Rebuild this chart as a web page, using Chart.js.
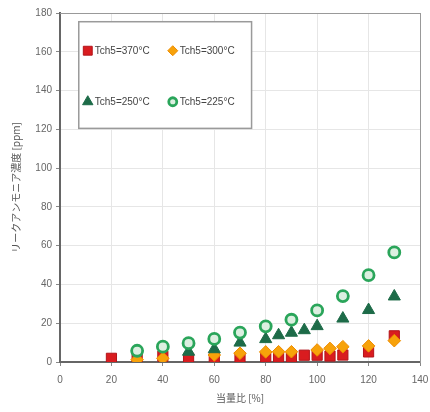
<!DOCTYPE html>
<html>
<head>
<meta charset="utf-8">
<script src="https://cdn.jsdelivr.net/npm/chart.js@4/dist/chart.umd.min.js"></script>
<style>
  html, body { margin: 0; padding: 0; background: #fff; }
  #wrap { width: 430px; height: 412px; position: relative; }
</style>
</head>
<body>
<div id="wrap"><canvas id="c"></canvas></div>
<script>
// Equivalence ratio [%] and leak ammonia concentration [ppm] per Tch5 setting
const x370 = [20, 30, 40, 50, 60, 70, 80, 85, 90, 95, 100, 105, 110, 120, 130];
const y370 = [1.9, 2, 3, 1.9, 1.9, 2.4, 2.5, 2.5, 2.5, 3.5, 3.5, 3.1, 3.6, 5.2, 13.5];

const x300 = [30, 40, 60, 70, 80, 85, 90, 100, 105, 110, 120, 130];
const y300 = [1.2, 1.9, 3.6, 4.5, 5.2, 5.3, 5.3, 6.2, 7, 7.9, 8.3, 11];

const x250 = [50, 60, 70, 80, 85, 90, 95, 100, 110, 120, 130];
const y250 = [5.3, 6.6, 10, 11.8, 13.8, 15.1, 16.4, 18.5, 22.4, 26.8, 33.8];

const x225 = [30, 40, 50, 60, 70, 80, 90, 100, 110, 120, 130];
const y225 = [5.8, 7.9, 9.7, 11.9, 15.2, 18.4, 21.8, 26.6, 34, 44.8, 56.5];

const seriesNames = ['Tch5=370°C', 'Tch5=300°C', 'Tch5=250°C', 'Tch5=225°C'];
const xTicks = [0, 20, 40, 60, 80, 100, 120, 140];
const yTicks = [0, 20, 40, 60, 80, 100, 120, 140, 160, 180];
const xTitle = '当量比 [%]';
const yTitle = 'リークアンモニア濃度 [ppm]';

const pts = (xs, ys) => xs.map((v, i) => ({ x: v, y: ys[i] }));

const TICK_FONT = { family: "'Liberation Sans', Arial, sans-serif", size: 10 };
const JP_FONT = "'Noto Sans CJK JP', sans-serif";

const datasets = [
  { label: seriesNames[0], data: pts(x370, y370), pointStyle: 'rect', pointRadius: 7.2,
    backgroundColor: '#d91c1f', borderColor: '#b3141a', borderWidth: 1, order: 4 },
  { label: seriesNames[1], data: pts(x300, y300), pointStyle: 'rectRot', pointRadius: 6.3,
    backgroundColor: '#f7a20a', borderColor: '#ee8c00', borderWidth: 1, order: 3 },
  { label: seriesNames[2], data: pts(x250, y250), pointStyle: 'triangle', pointRadius: 7,
    backgroundColor: '#1d6b48', borderColor: '#1d6b48', borderWidth: 1, order: 2 },
  { label: seriesNames[3], data: pts(x225, y225), pointStyle: 'circle', pointRadius: 5.5,
    backgroundColor: '#dcefe0', borderColor: '#2aa55a', borderWidth: 2.8, order: 1 }
];
datasets.forEach(d => { d.showLine = false; d.pointHoverRadius = d.pointRadius; });

// Marker drawing for the in-plot legend
function drawMarker(ctx, style, x, y, r, ds) {
  ctx.save();
  ctx.fillStyle = ds.backgroundColor;
  ctx.strokeStyle = ds.borderColor;
  ctx.lineWidth = ds.borderWidth;
  ctx.beginPath();
  if (style === 'rect') {
    const s = r * Math.SQRT1_2;
    ctx.rect(x - s, y - s, 2 * s, 2 * s);
  } else if (style === 'rectRot') {
    ctx.moveTo(x, y - r); ctx.lineTo(x + r, y); ctx.lineTo(x, y + r); ctx.lineTo(x - r, y);
    ctx.closePath();
  } else if (style === 'triangle') {
    ctx.moveTo(x, y - r); ctx.lineTo(x + r * 0.866, y + r * 0.5); ctx.lineTo(x - r * 0.866, y + r * 0.5);
    ctx.closePath();
  } else {
    ctx.arc(x, y, r, 0, Math.PI * 2);
  }
  ctx.fill();
  ctx.stroke();
  ctx.restore();
}

const boxLegend = {
  id: 'boxLegend',
  afterDatasetsDraw(chart) {
    const { ctx, scales } = chart;
    const left = scales.x.getPixelForValue(7.3);
    const right = scales.x.getPixelForValue(74.5);
    const top = scales.y.getPixelForValue(175.5);
    const bottom = scales.y.getPixelForValue(120.5);
    ctx.save();
    ctx.fillStyle = '#ffffff';
    ctx.fillRect(left, top, right - left, bottom - top);
    ctx.strokeStyle = '#9a9a9a';
    ctx.lineWidth = 1.5;
    ctx.strokeRect(left, top, right - left, bottom - top);
    ctx.font = "10px 'Liberation Sans', Arial, sans-serif";
    ctx.fillStyle = '#444';
    ctx.textBaseline = 'middle';
    const rows = [top + 29, top + 80];
    const cols = [left + 9, left + 94];
    const sizes = [6.3, 5, 6, 4];
    chart.data.datasets.forEach((ds, i) => {
      const cx = cols[i % 2], cy = rows[Math.floor(i / 2)];
      drawMarker(ctx, ds.pointStyle, cx, cy, sizes[i], ds);
      ctx.fillText(ds.label, cx + 7, cy + 1);
    });
    ctx.restore();
  }
};

// let the layout padding alone decide the plot edges
const noEdgePad = s => { s.paddingLeft = 0; s.paddingRight = 0; s.paddingTop = 0; s.paddingBottom = 0; };

new Chart(document.getElementById('c'), {
  type: 'scatter',
  data: { datasets },
  options: {
    responsive: true,
    maintainAspectRatio: false,
    animation: false,
    layout: { padding: { left: 6, right: 10, top: 13, bottom: 4 } },
    plugins: { legend: { display: false }, tooltip: { enabled: false } },
    scales: {
      x: {
        type: 'linear', min: 0, max: 140,
        afterBuildTicks: s => { s.ticks = xTicks.map(v => ({ value: v })); },
        ticks: { color: '#666', font: TICK_FONT, padding: 8 },
        grid: { color: '#e6e6e6', lineWidth: 1, drawTicks: true, tickLength: 4, tickColor: '#888' },
        border: { color: '#666', width: 2 },
        title: { display: true, text: xTitle, color: '#555', font: { family: JP_FONT, size: 10 }, padding: { top: 0 } },
        afterFit: s => { s.height = 46; noEdgePad(s); }
      },
      y: {
        type: 'linear', min: 0, max: 180,
        afterBuildTicks: s => { s.ticks = yTicks.map(v => ({ value: v })); },
        ticks: { color: '#666', font: TICK_FONT, padding: 4 },
        grid: { color: '#e6e6e6', lineWidth: 1, drawTicks: true, tickLength: 4, tickColor: '#888' },
        border: { color: '#666', width: 2 },
        title: { display: true, text: yTitle, color: '#555', font: { family: JP_FONT, size: 10 }, padding: { bottom: 4 } },
        afterFit: s => { s.width = 54; noEdgePad(s); }
      },
      x2: {
        type: 'linear', position: 'top', min: 0, max: 140,
        ticks: { display: false }, grid: { display: false },
        border: { color: '#999', width: 1 }, afterFit: s => { s.height = 0; noEdgePad(s); }
      },
      y2: {
        type: 'linear', position: 'right', min: 0, max: 180,
        ticks: { display: false }, grid: { display: false },
        border: { color: '#999', width: 1 }, afterFit: s => { s.width = 0; noEdgePad(s); }
      }
    }
  },
  plugins: [boxLegend]
});
</script>
</body>
</html>
